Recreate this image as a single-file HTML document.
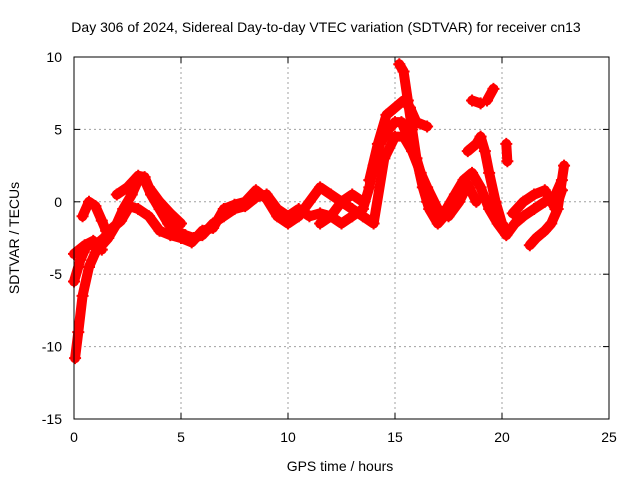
<!DOCTYPE html>
<html><head><meta charset="utf-8">
<style>
body{margin:0;background:#fff;}
svg{display:block;font-family:"Liberation Sans",sans-serif;}
</style></head>
<body>
<svg id="chart" width="640" height="480" viewBox="0 0 640 480" xmlns="http://www.w3.org/2000/svg">
<text x="326" y="32" font-size="14" text-anchor="middle">Day 306 of 2024, Sidereal Day-to-day VTEC variation (SDTVAR) for receiver cn13</text>
<text x="340" y="471" font-size="14" text-anchor="middle">GPS time / hours</text>
<text x="19" y="238" font-size="14" text-anchor="middle" transform="rotate(-90 19 238)">SDTVAR / TECUs</text>
<g id="grid"></g>
<g id="axes"></g>
<g id="marks"></g>
<rect x="74" y="57" width="535" height="362" fill="none" stroke="#000" stroke-width="1"/>
</svg>
<script>
const xTicks=[0,5,10,15,20,25];
const yTicks=[-15,-10,-5,0,5,10];
const trackA=[[0.05,-10.8],[0.2,-9],[0.4,-6.5],[0.7,-4.5],[1.0,-3.5],[1.3,-3],[1.6,-2.5],[2.0,-1.5],[2.3,-0.5],[2.7,0.5],[3.0,1.5],[3.3,1.5],[3.6,0.5],[4.0,-0.5],[4.4,-1.5],[4.8,-2],[5.2,-2.3],[5.6,-2.5],[6.0,-2.3],[6.5,-1.5],[7.0,-1],[7.5,-0.5],[8.0,-0.3],[8.5,0.3],[9.0,0.5],[9.5,-0.5],[10.0,-1],[10.5,-0.5],[11.0,-1],[11.5,-0.8],[12,-1],[12.5,-1.5],[13,-1],[13.5,-0.5],[13.8,1],[14.0,2.5],[14.3,4],[14.7,5],[15.0,5.5],[15.3,5.5],[15.6,4.5],[16.0,3],[16.3,1.5],[16.5,0],[16.8,-0.5],[17.1,-1],[17.4,-0.5],[17.8,0.5],[18.2,1.5],[18.6,2],[19.0,1],[19.4,-0.5],[19.8,-1.5],[20.2,-2.3],[20.6,-1.5],[21.0,-1],[21.5,-0.5],[22,0],[22.5,0.5],[22.8,1.5]];
const trackB=[[0,-5.5],[0.3,-4],[0.6,-3],[1.0,-3],[1.4,-2.5],[1.8,-1.8],[2.2,-1.3],[2.6,-0.3],[3.0,-0.5],[3.5,-1],[4,-2],[4.5,-2.3],[5,-2.5],[5.5,-2.8],[6,-2],[6.5,-1.8],[7,-0.5],[7.5,-0.2],[8,0],[8.5,0.8],[9,0.2],[9.5,-1],[10,-1.5],[10.5,-1],[11,0],[11.5,1],[12,0.5],[12.5,0],[13,0.5],[13.5,0]];
const trackC=[[0,-3.6],[0.5,-3],[0.9,-2.7],[1.3,-3.3]];
const trackD=[[0.4,-1],[0.7,0],[1.0,-0.3],[1.3,-1.3],[1.5,-2]];
const trackE=[[2.0,0.5],[2.5,1],[3.0,1.8],[3.3,1.7],[3.5,1],[4,0],[4.5,-0.8],[5,-1.5]];
const trackF=[[13.8,1.5],[14.2,4],[14.6,6],[15.0,6.5],[15.4,7],[15.7,6.5],[16.0,5.5],[16.5,5.2]];
const trackG=[[15.2,9.5],[15.4,9],[15.6,7],[15.8,5],[16.0,3],[16.3,1],[16.6,-0.5],[17.0,-1.5],[17.3,-1]];
const trackH=[[11.5,-1.5],[12,-1],[12.5,0],[13,-0.5],[13.5,-1],[14,-1.5],[14.5,3],[15,4.5],[15.4,4.5],[15.8,3.5],[16.2,2],[16.5,1],[17,-0.5],[17.5,-1],[18,0],[18.4,1.2],[18.8,0]];
const trackI=[[18.6,7],[19.0,6.8]];
const trackJ=[[19.3,7],[19.6,7.8]];
const trackK=[[18.4,3.5],[18.8,4],[19.0,4.5],[19.2,3.5],[19.4,2],[19.7,0],[20,-1.5],[20.2,-2]];
const trackL=[[20.5,-0.8],[21,0],[21.5,0.5],[22,0.8],[22.5,-0.5],[22.8,0.8]];
const trackM=[[21.3,-3],[21.6,-2.5],[22,-2],[22.3,-1.5],[22.6,-0.5],[22.9,2.5]];
const trackN=[[20.2,4],[20.25,2.8]];
const tracks=[trackA,trackB,trackC,trackD,trackE,trackF,trackG,trackH,trackI,trackJ,trackK,trackL,trackM,trackN];

const X=t=>74+t*(535/25);
const Y=v=>201.8-v*14.48;
const NS="http://www.w3.org/2000/svg";
const grid=document.getElementById('grid'),axes=document.getElementById('axes'),marks=document.getElementById('marks');
function mk(tag,attrs,parent){const e=document.createElementNS(NS,tag);for(const k in attrs)e.setAttribute(k,attrs[k]);parent.appendChild(e);return e;}
xTicks.forEach(t=>{
  const x=X(t);
  if(t>0&&t<25){const g=mk('line',{x1:x,y1:57,x2:x,y2:419,stroke:'#a0a0a0','stroke-dasharray':'2,3'},grid);
  
  }
  mk('line',{x1:x,y1:419,x2:x,y2:413,stroke:'#000'},axes);
  mk('line',{x1:x,y1:57,x2:x,y2:63,stroke:'#000'},axes);
  const l=mk('text',{x:x,y:442,'font-size':14,'text-anchor':'middle'},axes);
  l.textContent=t;
  
  
});
yTicks.forEach(v=>{
  const y=Y(v);
  if(v>-15&&v<10){const g=mk('line',{x1:74,y1:y,x2:609,y2:y,stroke:'#a0a0a0','stroke-dasharray':'2,3'},grid);
  
  }
  mk('line',{x1:74,y1:y,x2:80,y2:y,stroke:'#000'},axes);
  mk('line',{x1:609,y1:y,x2:603,y2:y,stroke:'#000'},axes);
  const l=mk('text',{x:62,y:y+5,'font-size':14,'text-anchor':'end'},axes);
  l.textContent=v;
  
  
});
tracks.forEach((tr,i)=>{
  const p=mk('polyline',{points:tr.map(d=>X(d[0])+','+Y(d[1])).join(' '),fill:'none',stroke:'#ff0000','stroke-width':10,'stroke-linejoin':'round','stroke-linecap':'round'},marks);
  
  
  tr.forEach(d=>{
    const x=X(d[0]),y=Y(d[1]);
    const m=mk('path',{d:`M${x-6},${y}H${x+6}M${x},${y-6}V${y+6}`,stroke:'#ff0000','stroke-width':2},marks);
    
    
  });
});
</script>
</body></html>
